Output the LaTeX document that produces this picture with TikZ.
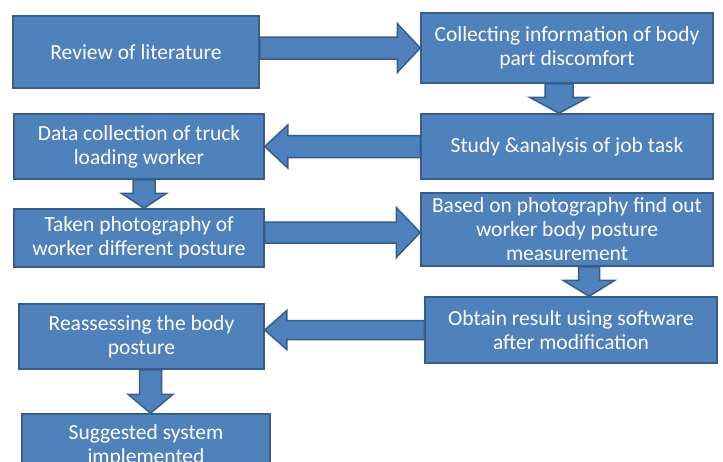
\documentclass[tikz,border=0pt]{standalone}
\usepackage{fontspec}
\setmainfont{Carlito}
\usetikzlibrary{calc}
\definecolor{boxblue}{HTML}{4F81BD}
\definecolor{boxline}{HTML}{385D8A}
\tikzset{
  stage/.style={draw=boxline, fill=boxblue, line width=1.5pt, text=white,
    align=center, inner sep=0pt},
  barrow/.style={draw=boxline, fill=boxblue, line width=1.5pt, line join=miter}
}
% block arrow: start, tip, half shaft, half head, head length
\newcommand{\blockarrow}[5]{%
  \coordinate (ba) at ($(#2)!#5!(#1)$);
  \draw[barrow] ($(#1)!#3!90:(#2)$) -- ($(ba)!#3!-90:(#1)$) -- ($(ba)!#4!-90:(#1)$)
    -- (#2) -- ($(ba)!#4!90:(#1)$) -- ($(ba)!#3!90:(#1)$) -- ($(#1)!#3!-90:(#2)$) -- cycle;}

\begin{document}
\begin{tikzpicture}[x=1pt, y=-1pt,
  every node/.style={font=\fontsize{21.5}{24}\selectfont}]
\path[use as bounding box] (0,0) rectangle (723,461);
\clip (0,0) rectangle (723,461);

\node[stage, minimum width=246, minimum height=72] (review) at (136,52) {Review of literature};
\node[stage, minimum width=292, minimum height=70] (collect) at (567,48) {Collecting information of body\\part discomfort};
\node[stage, minimum width=292, minimum height=65] (study) at (567,146.5) {Study \&analysis of job task};
\node[stage, minimum width=250, minimum height=65] (data) at (139,146.5) {Data collection of truck\\loading worker};
\node[stage, minimum width=250, minimum height=58] (photo) at (139,238) {Taken photography of\\worker different posture};
\node[stage, minimum width=292, minimum height=73] (based) at (567,229.5) {Based on photography find out\\worker body posture\\measurement};
\node[stage, minimum width=292, minimum height=66] (obtain) at (571,330) {Obtain result using software\\after modification};
\node[stage, minimum width=245, minimum height=65] (reassess) at (141.5,336.5) {Reassessing the body\\posture};
\node[stage, minimum width=248, minimum height=64] (suggest) at (146,446) {Suggested system\\implemented};

% arrows
\coordinate (a1) at (review.east |- collect.west);
\blockarrow{a1}{collect.west}{11pt}{24.5pt}{23pt}
\coordinate (a2) at ($(collect.south)+(-8,0)$);
\coordinate (a2t) at (a2 |- study.north);
\blockarrow{a2}{a2t}{14pt}{29.5pt}{16pt}
\coordinate (a3t) at (data.east |- study.west);
\blockarrow{study.west}{a3t}{11pt}{21.5pt}{23pt}
\coordinate (a4) at ($(data.south)+(5,0)$);
\coordinate (a4t) at (a4 |- photo.north);
\blockarrow{a4}{a4t}{11pt}{22.5pt}{15pt}
\coordinate (a5) at ($(photo.east)+(0,-5.5)$);
\coordinate (a5t) at (based.west |- a5);
\blockarrow{a5}{a5t}{10.5pt}{25pt}{24pt}
\coordinate (a6) at ($(based.south)+(22,0)$);
\coordinate (a6t) at (a6 |- obtain.north);
\blockarrow{a6}{a6t}{10.5pt}{26pt}{16pt}
\coordinate (a7t) at (reassess.east |- obtain.west);
\blockarrow{obtain.west}{a7t}{9.5pt}{19.5pt}{22pt}
\coordinate (a8) at ($(reassess.south)+(9,0)$);
\coordinate (a8t) at (a8 |- suggest.north);
\blockarrow{a8}{a8t}{11pt}{22.5pt}{19pt}
\end{tikzpicture}
\end{document}
